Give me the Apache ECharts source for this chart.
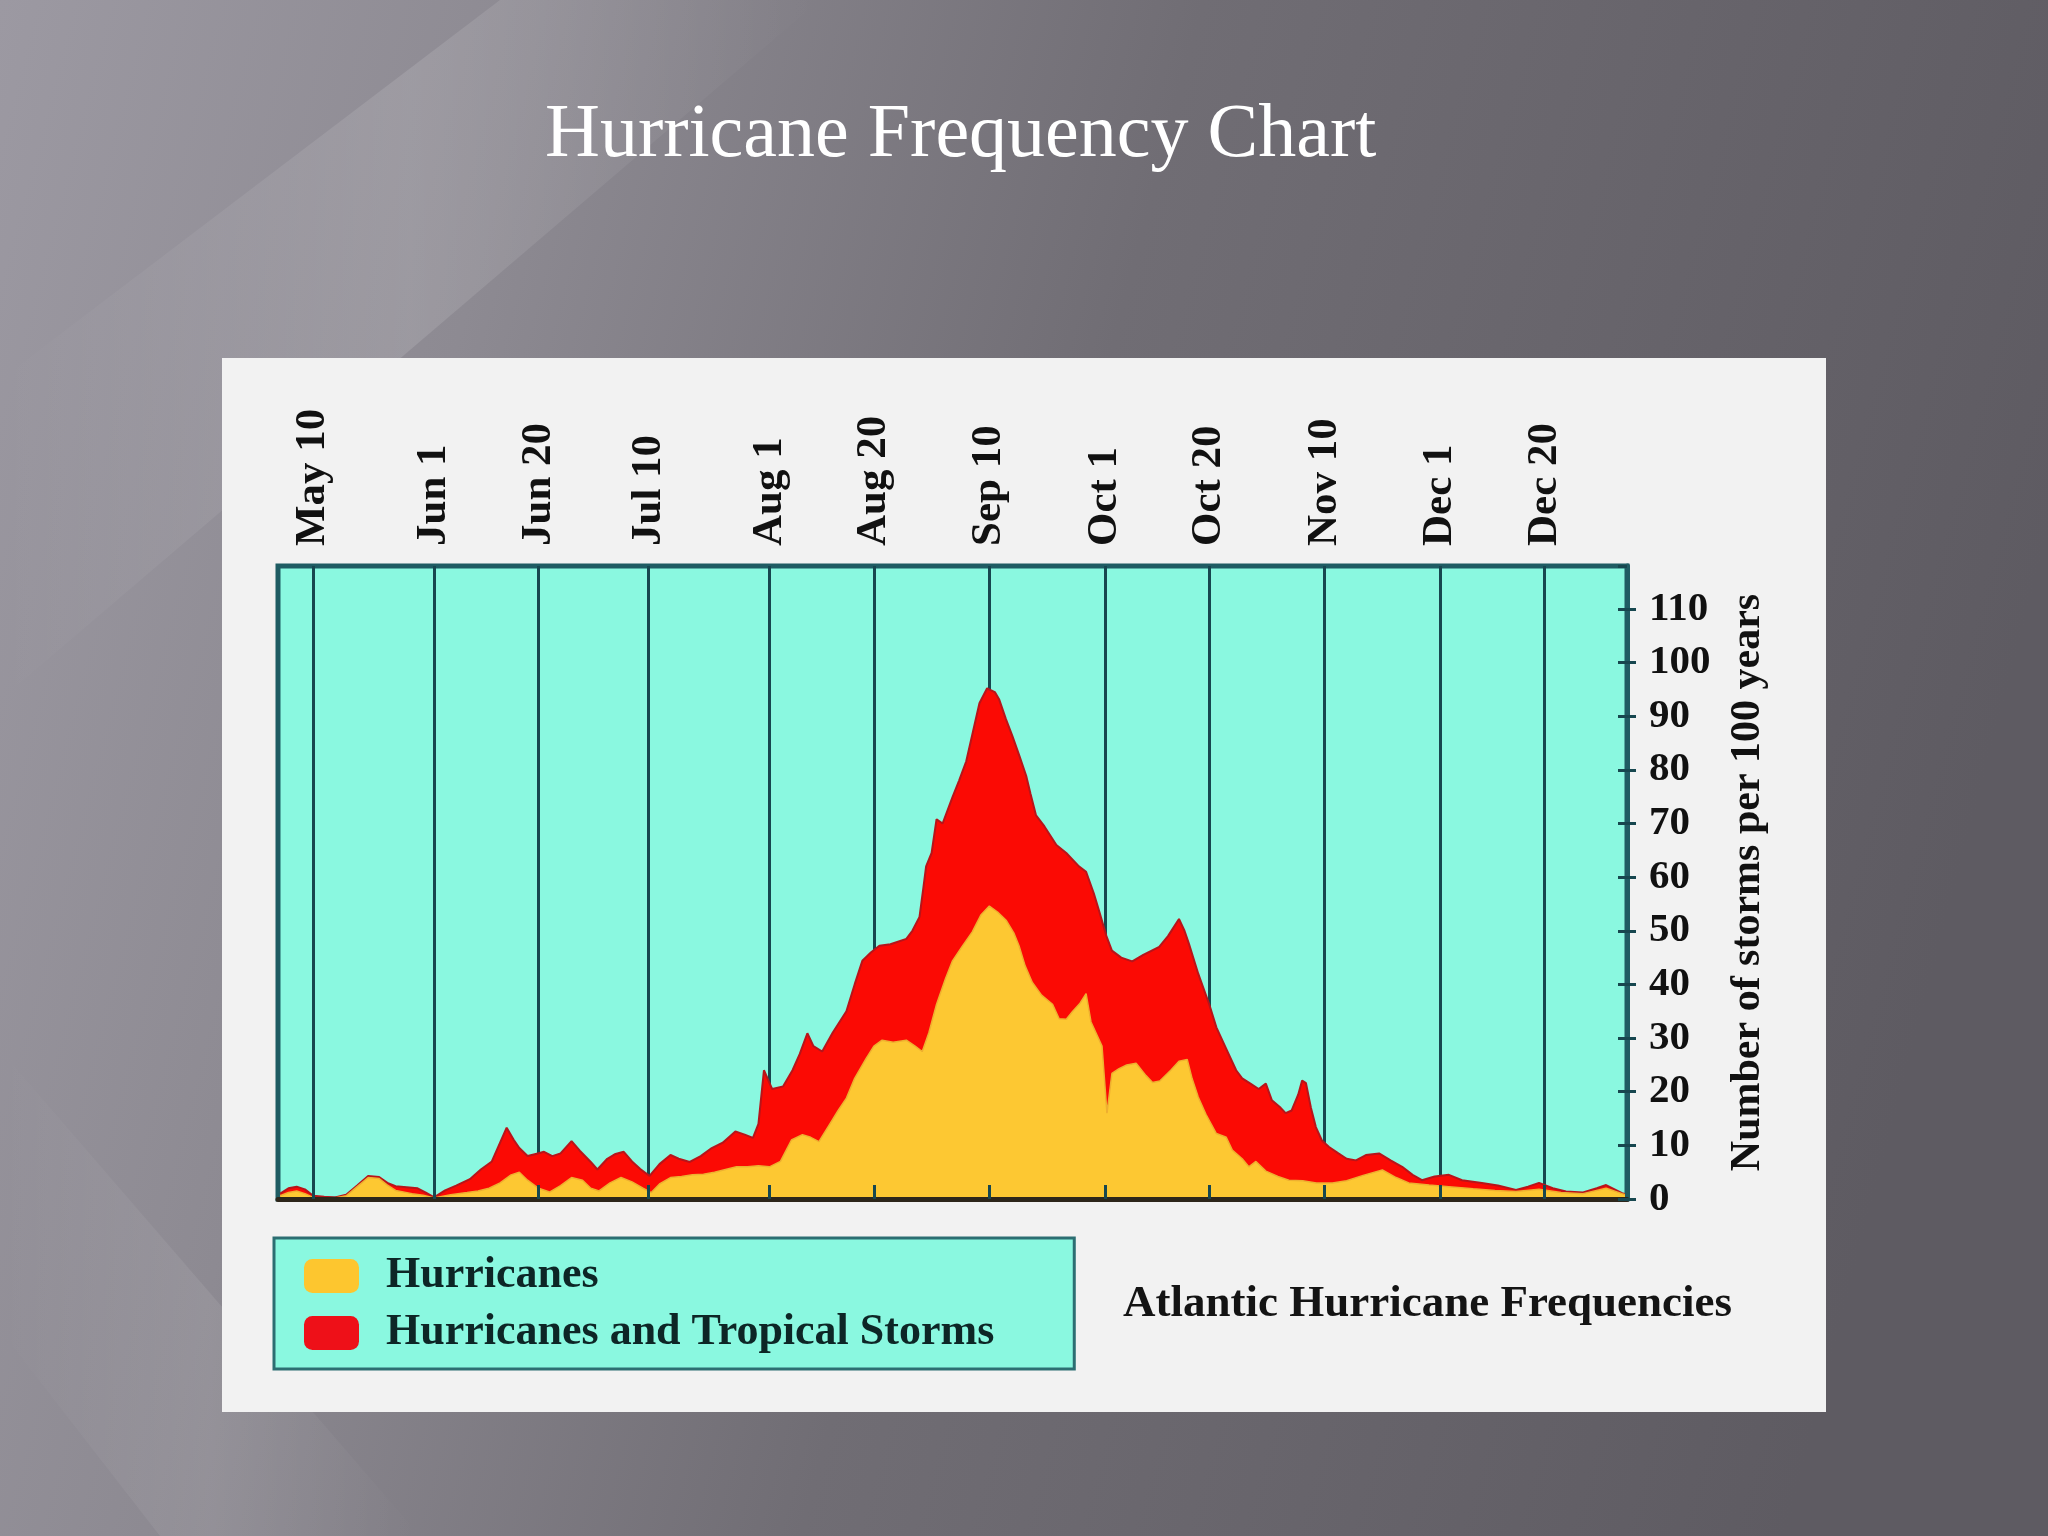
<!DOCTYPE html>
<html>
<head>
<meta charset="utf-8">
<style>
html,body{margin:0;padding:0;width:2048px;height:1536px;overflow:hidden;background:#6e6b72;}
#chart{width:2048px;height:1536px;}
</style>
<script src="https://cdn.jsdelivr.net/npm/echarts@6/dist/echarts.min.js"></script>
</head>
<body>
<div id="chart"></div>
<script>
// ---- data (day of year) ----
const dateDays   = [130, 152, 171, 191, 213, 232, 253, 274, 293, 314, 335, 354];
const dateLabels = ['May 10','Jun 1','Jun 20','Jul 10','Aug 1','Aug 20','Sep 10','Oct 1','Oct 20','Nov 10','Dec 1','Dec 20'];
const yTicks = [0,10,20,30,40,50,60,70,80,90,100,110];

// Hurricanes and Tropical Storms (number of storms per 100 years)
const totalDays = [124,125.5,127,128.5,130,132,134,136,138,140,142,143.5,145,147,149,150.5,152,154,156,158.5,160.5,162.5,164,165.2,166.5,167.5,169,170.5,172,173.5,175,177,178.5,180.5,181.7,183.5,185,186.5,188,189.5,191.2,193,195,196.5,198.5,200.5,202.5,204.5,206.8,208.5,210,211,212,213.5,215.5,217.2,218.5,219.9,221,222.6,224.5,227,228.5,229.9,231.5,233,235,237.9,239,240.3,241,241.5,242.5,243.4,244.5,246.3,247.5,248.8,250,251.2,252.6,254,254.8,256,257.2,258.5,259.7,260.5,261.5,263,265.2,267,269.3,270.6,272,273,274.3,275.3,277,279,281,283.9,285.5,287.5,288.5,289.3,291,293,294.3,296.1,297.9,299,300.5,302,303.3,304.4,306,306.9,308,309.2,309.9,310.6,311.5,312.4,313.5,314.8,316.5,318,319.7,321.5,323.9,326,328.1,330,331.7,334,336.6,339,342.6,345.5,348.8,351,353,355.5,357.9,361,363.5,365.2,368.1,369];
const totalValues = [1.0,2.0,2.3,1.8,0.6,0.4,0.3,0.8,2.5,4.3,4.1,3.0,2.4,2.2,2.0,1.2,0.3,1.6,2.5,3.7,5.5,7.0,10.5,13.3,11.0,9.5,8.0,8.4,8.8,8.0,8.5,10.8,9.0,6.9,5.5,7.5,8.4,8.8,7.0,5.6,4.3,6.5,8.2,7.5,6.9,8.0,9.5,10.5,12.6,12.0,11.4,14.0,24.0,20.5,21.0,24.0,27.0,30.9,28.5,27.5,31.0,35.0,40.0,44.4,46.0,47.2,47.5,48.5,50.0,52.6,58.0,62.0,64.5,70.8,70.0,74.9,78.0,81.6,87.0,92.4,95.2,94.5,93.1,89.5,86.3,82.5,78.9,75.5,71.5,69.5,66.0,64.5,62.0,61.0,57.0,53.6,49.0,46.3,45.0,44.3,45.5,47.0,49.0,52.2,50.0,47.6,42.0,36.3,32.0,28.0,24.0,22.5,21.5,20.5,21.5,18.4,17.0,16.0,16.5,19.5,22.1,21.6,17.0,13.4,10.9,9.7,8.5,7.5,7.2,8.2,8.5,7.2,6.0,4.5,3.5,4.2,4.5,3.5,3.0,2.5,1.7,2.3,3.0,2.0,1.4,1.2,2.0,2.6,1.1,0.8];

// Hurricanes only
const hurDays = [124,125.5,127,128.5,130,134,136,138,140,142,143.5,145,148,150,152,155,158,160,162,164,166,167.5,169,171,173,175,177,179,180.5,182,184,186,188,190,191.5,193,195,197,199,201,203,205,207,209,211,213,215,217,219,220.5,222,224,225.5,227,228.5,230.6,232,233.5,235.5,237.9,239.5,240.8,242,243.4,245,246.3,248,249.9,251.5,253,254.5,256.1,257.5,258.4,259.5,260.8,262.5,264.5,265.7,267,268.1,269.5,270.6,271.5,273.5,274.4,275.3,276.6,278,279.7,281.5,282.7,284,286,287.5,289,289.9,291,292.4,294.3,296.1,297.2,299,300.2,301.5,303.3,305.5,307.5,310,312.5,315.4,318,321,324.5,327,329.3,333,336.6,341,345,348.8,353,357,361,365.2,368.1,369];
const hurValues = [0.6,1.2,1.5,1.0,0.3,0.2,0.6,2.3,4.0,3.8,2.6,1.6,1.0,0.7,0.2,0.8,1.2,1.5,2.0,3.0,4.5,5.0,3.5,2.0,1.3,2.5,4.0,3.5,2.0,1.5,3.0,4.0,3.2,2.0,1.2,2.8,4.0,4.2,4.5,4.6,5.0,5.5,6.0,6.0,6.2,6.0,7.0,11.0,12.0,11.5,10.7,14.0,16.5,18.8,22.5,26.2,28.5,29.6,29.2,29.6,28.5,27.5,31.0,36.3,41.0,44.4,47.0,49.8,53.0,54.6,53.5,51.9,49.5,47.2,43.5,40.4,38.0,36.3,33.6,33.5,34.9,36.5,38.3,33.0,28.5,16.0,23.4,24.3,25.0,25.3,23.0,21.7,22.0,24.0,25.7,26.0,22.4,19.0,15.8,12.2,11.5,9.1,7.5,6.0,7.0,5.2,4.2,3.5,3.4,3.0,3.0,3.4,4.4,5.4,4.0,3.0,2.6,2.3,1.9,1.6,1.4,1.8,1.2,1.0,2.0,1.0,0.7];

const pairs = (xs, ys) => xs.map((x, i) => [x, ys[i]]);
const labelOf = v => { const i = dateDays.indexOf(Math.round(v)); return i >= 0 ? dateLabels[i] : ''; };

const SERIF = "'Liberation Serif', 'DejaVu Serif', serif";
const CYAN = '#8af8e0';
const TEAL = '#1f5c63';
const X_MIN = 123.6, X_MAX = 369;

const streak = (a) => ({type: 'linear', x: 0, y: 0, x2: 1, y2: 0,
  colorStops: [{offset: 0, color: 'rgba(255,255,255,0)'}, {offset: 0.5, color: 'rgba(255,255,255,' + a + ')'}, {offset: 1, color: 'rgba(255,255,255,0)'}]});

const chart = echarts.init(document.getElementById('chart'), null, {renderer: 'canvas'});
chart.setOption({
  backgroundColor: {
    type: 'linear', x: 0, y: 0, x2: 1, y2: 0.35,
    colorStops: [
      {offset: 0, color: '#9c99a2'},
      {offset: 0.25, color: '#8d8a92'},
      {offset: 0.55, color: '#706d74'},
      {offset: 1, color: '#5e5b62'}
    ]
  },
  animation: false,
  graphic: [
    {type: 'polygon', z: -20, silent: true,
     shape: {points: [[0, 380], [500, 0], [820, 0], [0, 700]]},
     style: {fill: streak(0.12)}},
    {type: 'polygon', z: -20, silent: true,
     shape: {points: [[0, 1050], [420, 1536], [160, 1536], [0, 1330]]},
     style: {fill: streak(0.08)}},
    {type: 'rect', z: -10, silent: true,
     shape: {x: 222, y: 358, width: 1604, height: 1054},
     style: {fill: '#f2f2f2'}}
  ],
  title: [
    {text: 'Hurricane Frequency Chart', left: 545, top: 98, padding: 0,
     textStyle: {fontFamily: SERIF, fontWeight: 'normal', fontSize: 76, color: '#ffffff'}},
    {text: 'Atlantic Hurricane Frequencies', left: 1123, top: 1282, padding: 0,
     textStyle: {fontFamily: SERIF, fontWeight: 'bold', fontSize: 45, color: '#141414'}}
  ],
  legend: {
    left: 274, top: 1238, orient: 'vertical',
    backgroundColor: CYAN, borderColor: '#2c6e72', borderWidth: 3,
    padding: [16, 80, 14, 30], itemWidth: 55, itemHeight: 34, itemGap: 13,
    icon: 'roundRect',
    textStyle: {fontFamily: SERIF, fontWeight: 'bold', fontSize: 44, color: '#0d2626', padding: [0, 0, 0, 22]},
    data: ['Hurricanes', 'Hurricanes and Tropical Storms']
  },
  grid: {
    left: 278, right: 421, top: 566, bottom: 337,
    show: true, backgroundColor: CYAN, borderColor: TEAL, borderWidth: 5
  },
  xAxis: [
    {type: 'value', min: X_MIN, max: X_MAX, position: 'bottom', z: 10,
     axisLine: {show: true, onZero: false, lineStyle: {color: '#2d261a', width: 5}},
     axisTick: {show: false}, axisLabel: {show: false}, splitLine: {show: false}},
    {type: 'value', min: X_MIN, max: X_MAX, position: 'top', z: 10,
     axisLine: {show: false},
     axisTick: {show: true, customValues: dateDays, length: 14, lineStyle: {color: '#17474f', width: 3}},
     axisLabel: {show: true, customValues: dateDays, rotate: 90, margin: 20,
                 fontFamily: SERIF, fontWeight: 'bold', fontSize: 43, color: '#111',
                 formatter: labelOf},
     splitLine: {show: false}}
  ],
  yAxis: [
    {type: 'value', min: 0, max: 118, interval: 10, position: 'right', z: 10,
     name: 'Number of storms per 100 years', nameLocation: 'middle', nameRotate: 90, nameGap: 100,
     nameTextStyle: {fontFamily: SERIF, fontWeight: 'bold', fontSize: 42, color: '#111'},
     axisLine: {show: true, lineStyle: {color: TEAL, width: 5}},
     axisTick: {show: true, length: 9, lineStyle: {color: '#17474f', width: 3}},
     axisLabel: {show: true, margin: 22, showMaxLabel: false,
                 fontFamily: SERIF, fontWeight: 'bold', fontSize: 41, color: '#111'},
     splitLine: {show: false}},
    {type: 'value', min: 0, max: 118, interval: 10, position: 'right', z: 10,
     axisLine: {show: false},
     axisTick: {show: true, inside: true, length: 9, lineStyle: {color: '#17474f', width: 3}},
     axisLabel: {show: false}, splitLine: {show: false}}
  ],
  series: [
    {type: 'line', data: [], z: 1, silent: true,
     markLine: {silent: true, symbol: 'none', z: 1, animation: false,
                label: {show: false},
                lineStyle: {color: '#17474f', width: 3, type: 'solid'},
                data: dateDays.map(d => ({xAxis: d}))}},
    {name: 'Hurricanes and Tropical Storms', type: 'line', z: 2,
     data: pairs(totalDays, totalValues), symbol: 'none', smooth: false,
     lineStyle: {color: '#b8141a', width: 2},
     itemStyle: {color: '#ee1018'},
     areaStyle: {color: '#fb0a04', opacity: 1}},
    {name: 'Hurricanes', type: 'line', z: 3,
     data: pairs(hurDays, hurValues), symbol: 'none', smooth: false,
     lineStyle: {color: '#eeb030', width: 1.5},
     itemStyle: {color: '#fdc62f'},
     areaStyle: {color: '#fdc832', opacity: 1}}
  ]
});
</script>
</body>
</html>
